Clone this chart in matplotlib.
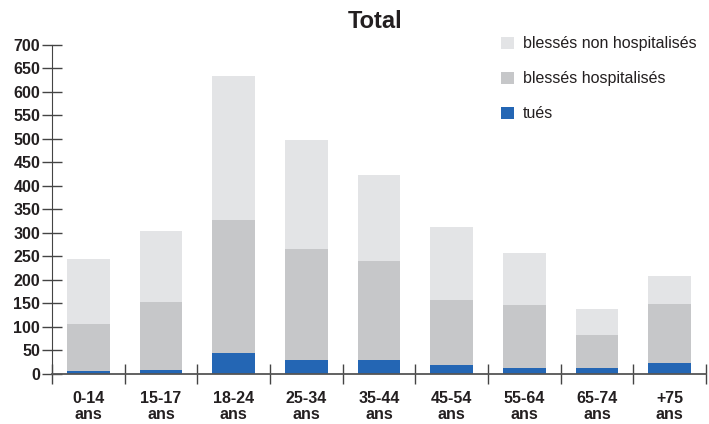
import matplotlib.pyplot as plt
import numpy as np

plt.rcParams['font.family'] = ['Liberation Sans', 'DejaVu Sans']

# valeurs
categories = ["0-14\nans", "15-17\nans", "18-24\nans", "25-34\nans", "35-44\nans",
              "45-54\nans", "55-64\nans", "65-74\nans", "+75\nans"]
tues = [6, 8, 45, 30, 30, 19, 13, 13, 23]
hospitalises = [100, 145, 282, 235, 210, 138, 133, 70, 125]
non_hospitalises = [138, 150, 307, 233, 182, 155, 111, 55, 60]

c_tues = "#2466b4"
c_hosp = "#c6c7c9"
c_non = "#e3e4e6"
txt = "#231f20"

fig = plt.figure(figsize=(7.09, 4.24), dpi=100)
ax = fig.add_axes([52 / 709, 50 / 424, 654 / 709, 329.3 / 424])

x = np.arange(len(categories))
w = 0.59
tues_a = np.array(tues)
hosp_a = np.array(hospitalises)
non_a = np.array(non_hospitalises)

ax.bar(x, tues_a, width=w, color=c_tues, label="tués", zorder=2)
ax.bar(x, hosp_a, width=w, bottom=tues_a, color=c_hosp, label="blessés hospitalisés", zorder=2)
ax.bar(x, non_a, width=w, bottom=tues_a + hosp_a, color=c_non,
       label="blessés non hospitalisés", zorder=2)

ax.set_xlim(-0.5, len(categories) - 0.5)
ax.set_ylim(0, 700)

for s in ["top", "right"]:
    ax.spines[s].set_visible(False)
ax.spines["left"].set_color("#444444")
ax.spines["bottom"].set_color("#555555")
ax.spines["bottom"].set_linewidth(1.3)
ax.spines["bottom"].set_zorder(3)

ax.set_yticks(range(0, 701, 50))
ax.tick_params(axis="y", direction="inout", length=15, width=1, color="#444444",
               labelsize=11.5, labelcolor=txt, pad=1)
for lab in ax.get_yticklabels():
    lab.set_fontweight("bold")

ax.set_xticks(x)
ax.set_xticklabels(categories, fontsize=11.5, fontweight="bold", color=txt, linespacing=1.15)
ax.tick_params(axis="x", which="major", length=0, pad=12)
ax.set_xticks(np.arange(-0.5, len(categories), 1.0), minor=True)
ax.tick_params(axis="x", which="minor", direction="inout", length=14, width=1, color="#444444")

fig.text(375 / 709, 1 - 22 / 424, "Total", ha="center", va="center",
         fontsize=17, fontweight="bold", color=txt)

handles, labels = ax.get_legend_handles_labels()
leg = fig.legend(handles[::-1], labels[::-1], loc="upper left",
                 bbox_to_anchor=(487 / 709, 1 - 22 / 424), frameon=False,
                 fontsize=11.5, handlelength=0.8, handleheight=0.8,
                 labelspacing=1.25, handletextpad=0.55, labelcolor=txt)

fig.savefig("out.png", dpi=100)
